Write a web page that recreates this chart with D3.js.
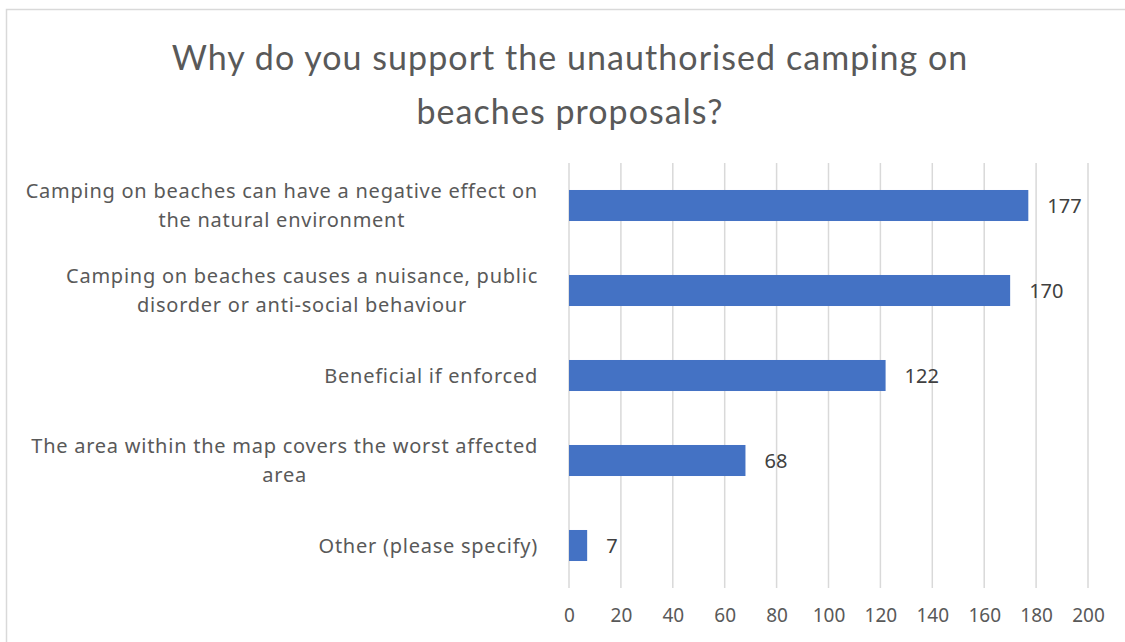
<!DOCTYPE html>
<html><head><meta charset="utf-8">
<script src="https://cdn.jsdelivr.net/npm/d3@7"></script>
<style>html,body{margin:0;padding:0;background:#fff;}svg{display:block;}</style>
</head><body>
<svg id="c" width="1125" height="642"></svg>
<script>
const titleLines = ["Why do you support the unauthorised camping on", "beaches proposals?"];
const categories = [
  ["Camping on beaches can have a negative effect on", "the natural environment"],
  ["Camping on beaches causes a nuisance, public", "disorder or anti-social behaviour"],
  ["Beneficial if enforced"],
  ["The area within the map covers the worst affected", "area"],
  ["Other (please specify)"]
];
const values = [177, 170, 122, 68, 7];
const ticks = [0, 20, 40, 60, 80, 100, 120, 140, 160, 180, 200];

const svg = d3.select("#c");
const W = 1125, H = 642;
const plotLeft = 569, plotRight = 1088, plotTop = 163, plotBottom = 588;
const textColor = "#595959";

// border
svg.append("rect").attr("x", 6.5).attr("y", 9.5).attr("width", W + 10).attr("height", H + 10)
  .attr("fill", "none").attr("stroke", "#d9d9d9").attr("stroke-width", 1.5);

// title
svg.append("g").selectAll("text").data(titleLines).join("text")
  .attr("x", 570).attr("y", (d, i) => 70 + i * 54)
  .attr("text-anchor", "middle")
  .attr("font-family", "Lato, 'Open Sans', sans-serif")
  .attr("font-size", 34).attr("letter-spacing", "1.05").attr("fill", textColor)
  .text(d => d);

const x = d3.scaleLinear().domain([0, 200]).range([plotLeft, plotRight]);
const y = d3.scaleBand().domain(d3.range(categories.length)).range([plotTop, plotBottom]).paddingInner(0.635).paddingOuter(0.3175);

// gridlines
svg.append("g").selectAll("line").data(ticks).join("line")
  .attr("x1", d => x(d)).attr("x2", d => x(d)).attr("y1", plotTop).attr("y2", plotBottom)
  .attr("stroke", "#d9d9d9").attr("stroke-width", 1.5);

// x axis labels
const xAxis = d3.axisBottom(x).tickValues(ticks).tickSize(0).tickPadding(0);
const ax = svg.append("g").attr("transform", `translate(0,${plotBottom + 20})`).call(xAxis);
ax.select(".domain").remove();
ax.selectAll("text").attr("font-family", "'Noto Sans', sans-serif").attr("font-size", 19).attr("fill", textColor);

// bars
svg.append("g").selectAll("rect").data(values).join("rect")
  .attr("x", x(0)).attr("y", (d, i) => y(i))
  .attr("width", d => x(d) - x(0)).attr("height", y.bandwidth())
  .attr("fill", "#4472C4");

// data labels
svg.append("g").selectAll("text").data(values).join("text")
  .attr("x", d => x(d) + 19).attr("y", (d, i) => y(i) + y.bandwidth() / 2)
  .attr("dy", "0.35em")
  .attr("font-family", "'Noto Sans', sans-serif").attr("font-size", 20).attr("fill", "#404040")
  .text(d => d);

// category labels
const lineH = 29, labelRight = 538;
categories.forEach((lines, i) => {
  const cy = y(i) + y.bandwidth() / 2;
  const g = svg.append("g");
  const ts = g.selectAll("text").data(lines).join("text")
    .attr("y", (d, j) => cy + (j - (lines.length - 1) / 2) * lineH)
    .attr("dy", "0.35em")
    .attr("text-anchor", "middle")
    .attr("font-family", "'Noto Sans', sans-serif").attr("font-size", 20)
    .attr("letter-spacing", "0.75")
    .attr("fill", textColor)
    .text(d => d);
  let maxW = 0;
  ts.each(function () { maxW = Math.max(maxW, this.getComputedTextLength()); });
  ts.attr("x", labelRight - maxW / 2);
});
</script>
</body></html>
